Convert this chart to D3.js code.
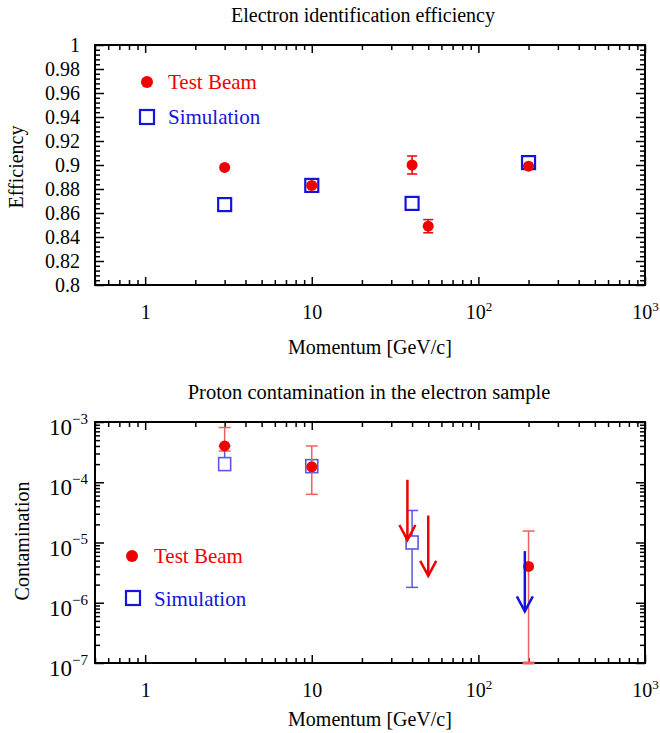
<!DOCTYPE html>
<html>
<head>
<meta charset="utf-8">
<script src="https://cdn.jsdelivr.net/npm/d3@7"></script>
<style>
body { margin: 0; background: #fff; }
svg { font-family: "Liberation Serif", "Times New Roman", serif; }
</style>
</head>
<body>
<div id="chart"></div>
<script>
// ---- efficiency panel data ----
var effTbP = [3, 10, 40, 50, 200];
var effTb = [0.898, 0.883, 0.900, 0.849, 0.899];
var effTbErr = [0, 0, 0.0075, 0.0055, 0];
var effSimP = [3, 10, 40, 200];
var effSim = [0.867, 0.883, 0.868, 0.902];
var effTicks = [0.8, 0.82, 0.84, 0.86, 0.88, 0.9, 0.92, 0.94, 0.96, 0.98, 1];
var effTickLabels = ['0.8', '0.82', '0.84', '0.86', '0.88', '0.9', '0.92', '0.94', '0.96', '0.98', '1'];

// ---- contamination panel data ----
var conTbP = [3, 10, 200];
var conTb = [4.0e-4, 1.8e-4, 4.0e-6];
var conTbLo = [3.3e-4, 6.3e-5, 1e-7];
var conTbHi = [8.1e-4, 4.0e-4, 1.55e-5];
var conTbLimP = [37.5, 50];
var conTbLim = [1.1e-4, 2.8e-5];
var conSimP = [3, 10, 40];
var conSim = [2.0e-4, 1.85e-4, 1.0e-5];
var conSimLo = [2.0e-4, 1.85e-4, 1.8e-6];
var conSimHi = [4.0e-4, 1.85e-4, 3.4e-5];
var conSimLimP = [190];
var conSimLim = [7.2e-6];
var conTicks = [1e-7, 1e-6, 1e-5, 1e-4, 1e-3];
var conTickExp = ['\u22127', '\u22126', '\u22125', '\u22124', '\u22123'];

// ---- shared x axis ----
var xTicks = [1, 10, 100, 1000];
var xTickBase = ['1', '10', '10', '10'];
var xTickExp = ['', '', '2', '3'];

var red = '#f00000', blue = '#1414dc';
var redErr = '#ee6060', blueErr = '#5858e4';

var svg = d3.select('#chart').append('svg')
	.attr('width', 660)
	.attr('height', 733);

var left = 95, right = 645;
var xScale = d3.scaleLog().domain([0.5, 1000]).range([left, right]);

var xMinor = [];
[0.1, 1, 10, 100].forEach(function(dec) {
	for (var k = 2; k <= 9; k++) {
		var v = dec * k;
		if (v >= 0.5 && v <= 1000) xMinor.push(v);
	}
});

// draws the ticks of one side, pointing inwards, no labels
function tickSide(axis, tr, values, size) {
	var g = svg.append('g').attr('transform', tr)
		.call(axis.tickValues(values).tickSize(-size).tickFormat(''));
	g.select('.domain').remove();
	g.selectAll('line').attr('stroke-width', 1.5);
	return g;
}

function panel(yScale, top, bottom, yMajor, yMinor, labelY) {
	tickSide(d3.axisBottom(xScale), 'translate(0,' + bottom + ')', xTicks, 8);
	tickSide(d3.axisBottom(xScale), 'translate(0,' + bottom + ')', xMinor, 5);
	tickSide(d3.axisTop(xScale), 'translate(0,' + top + ')', xTicks, 8);
	tickSide(d3.axisTop(xScale), 'translate(0,' + top + ')', xMinor, 5);
	tickSide(d3.axisLeft(yScale), 'translate(' + left + ',0)', yMajor, 9);
	tickSide(d3.axisLeft(yScale), 'translate(' + left + ',0)', yMinor, 5);
	tickSide(d3.axisRight(yScale), 'translate(' + right + ',0)', yMajor, 9);
	tickSide(d3.axisRight(yScale), 'translate(' + right + ',0)', yMinor, 5);

	// x labels
	var xl = svg.append('g').attr('transform', 'translate(0,' + bottom + ')')
		.call(d3.axisBottom(xScale).tickValues(xTicks).tickSize(0).tickPadding(20)
			.tickFormat(function(d, i) { return xTickBase[i]; }));
	xl.select('.domain').remove();
	xl.attr('font-size', 20).attr('font-family', null);
	xl.selectAll('.tick text').each(function(d, i) {
		if (xTickExp[i]) {
			d3.select(this).append('tspan').attr('dy', '-0.6em')
				.attr('font-size', 13).text(xTickExp[i]);
		}
	});

	svg.append('rect')
		.attr('x', left).attr('y', top)
		.attr('width', right - left).attr('height', bottom - top)
		.attr('fill', 'none').attr('stroke', '#000').attr('stroke-width', 2);

	svg.append('text')
		.attr('x', 370).attr('y', labelY)
		.attr('text-anchor', 'middle').attr('font-size', 20)
		.text('Momentum [GeV/c]');
}

// ================= panel 1 =================
var t1 = 45, b1 = 285;
var yEff = d3.scaleLinear().domain([0.8, 1]).range([b1, t1]);
var effMinor = [];
for (var i = 0; i <= 50; i++) {
	if (i % 5 !== 0) effMinor.push(0.8 + i * 0.004);
}
panel(yEff, t1, b1, effTicks, effMinor, 354);

var yl1 = svg.append('g').attr('transform', 'translate(' + left + ',0)')
	.call(d3.axisLeft(yEff).tickValues(effTicks).tickSize(0).tickPadding(15)
		.tickFormat(function(d, i) { return effTickLabels[i]; }));
yl1.select('.domain').remove();
yl1.attr('font-size', 20).attr('font-family', null);

svg.append('text').attr('x', 363).attr('y', 22)
	.attr('text-anchor', 'middle').attr('font-size', 20)
	.text('Electron identification efficiency');
svg.append('text')
	.attr('transform', 'translate(23,167) rotate(-90)')
	.attr('text-anchor', 'middle').attr('font-size', 20)
	.text('Efficiency');

// error bars
effTbP.forEach(function(p, i) {
	if (!effTbErr[i]) return;
	var x = xScale(p), y0 = yEff(effTb[i] - effTbErr[i]), y1 = yEff(effTb[i] + effTbErr[i]);
	var g = svg.append('g').attr('stroke', red).attr('stroke-width', 1.5);
	g.append('line').attr('x1', x).attr('x2', x).attr('y1', y0).attr('y2', y1);
	g.append('line').attr('x1', x - 5).attr('x2', x + 5).attr('y1', y0).attr('y2', y0);
	g.append('line').attr('x1', x - 5).attr('x2', x + 5).attr('y1', y1).attr('y2', y1);
});

svg.append('g').selectAll('rect')
	.data(effSimP)
	.enter()
	.append('rect')
	.attr('x', function(d) { return xScale(d) - 6.5; })
	.attr('y', function(d, i) { return yEff(effSim[i]) - 6.5; })
	.attr('width', 13).attr('height', 13)
	.attr('fill', 'none').attr('stroke', blue).attr('stroke-width', 2.2);

svg.append('g').selectAll('circle')
	.data(effTbP)
	.enter()
	.append('circle')
	.attr('cx', function(d) { return xScale(d); })
	.attr('cy', function(d, i) { return yEff(effTb[i]); })
	.attr('r', 5.5)
	.attr('fill', red);

// legend 1
svg.append('circle').attr('cx', 147).attr('cy', 82).attr('r', 6).attr('fill', red);
svg.append('text').attr('x', 168).attr('y', 89).attr('font-size', 21).attr('fill', red).text('Test Beam');
svg.append('rect').attr('x', 140).attr('y', 110).attr('width', 14).attr('height', 14)
	.attr('fill', 'none').attr('stroke', blue).attr('stroke-width', 2.2);
svg.append('text').attr('x', 168).attr('y', 124).attr('font-size', 21).attr('fill', blue).text('Simulation');

// ================= panel 2 =================
var t2 = 422, b2 = 663;
var yCon = d3.scaleLog().domain([1e-7, 1e-3]).range([b2, t2]);
var conMinor = [];
[1e-7, 1e-6, 1e-5, 1e-4].forEach(function(dec) {
	for (var k = 2; k <= 9; k++) conMinor.push(dec * k);
});
panel(yCon, t2, b2, conTicks, conMinor, 726);

var yl2 = svg.append('g').attr('transform', 'translate(' + left + ',0)')
	.call(d3.axisLeft(yCon).tickValues(conTicks).tickSize(0).tickPadding(7)
		.tickFormat(function() { return '10'; }));
yl2.select('.domain').remove();
yl2.attr('font-size', 23).attr('font-family', null);
yl2.selectAll('.tick text').attr('dy', '0.55em').each(function(d, i) {
	d3.select(this).append('tspan').attr('dy', '-0.75em')
		.attr('font-size', 15).text(conTickExp[i]);
});

svg.append('text').attr('x', 369).attr('y', 399)
	.attr('text-anchor', 'middle').attr('font-size', 20.5)
	.text('Proton contamination in the electron sample');
svg.append('text')
	.attr('transform', 'translate(29,541) rotate(-90)')
	.attr('text-anchor', 'middle').attr('font-size', 20)
	.text('Contamination');

function errBar(color, x, lo, hi, w) {
	var g = svg.append('g').attr('stroke', color).attr('stroke-width', 1.5);
	g.append('line').attr('x1', x).attr('x2', x).attr('y1', yCon(lo)).attr('y2', yCon(hi));
	g.append('line').attr('x1', x - 6).attr('x2', x + 6).attr('y1', yCon(hi)).attr('y2', yCon(hi));
	g.append('line').attr('x1', x - 6).attr('x2', x + 6).attr('y1', yCon(lo)).attr('y2', yCon(lo))
		.attr('stroke-width', w || 1.5);
}

function arrow(color, p, lim) {
	var x = xScale(p), y0 = yCon(lim), y1 = yCon(lim / 10);
	var g = svg.append('g').attr('stroke', color).attr('stroke-width', 2.5).attr('fill', 'none');
	g.append('line').attr('x1', x).attr('x2', x).attr('y1', y0).attr('y2', y1);
	g.append('path').attr('d', 'M' + (x - 8) + ',' + (y1 - 15) + 'L' + x + ',' + y1 + 'L' + (x + 8) + ',' + (y1 - 15));
}

conSimP.forEach(function(p, i) {
	errBar(blueErr, xScale(p), conSimLo[i], conSimHi[i]);
});
svg.append('g').selectAll('rect')
	.data(conSimP)
	.enter()
	.append('rect')
	.attr('x', function(d) { return xScale(d) - 6; })
	.attr('y', function(d, i) { return yCon(conSim[i]) - 6.5; })
	.attr('width', 12).attr('height', 13)
	.attr('fill', '#fff').attr('stroke', blueErr).attr('stroke-width', 1.6);

conTbP.forEach(function(p, i) {
	errBar(redErr, xScale(p), conTbLo[i], conTbHi[i], i === 2 ? 3 : 1.5);
});
svg.append('g').selectAll('circle')
	.data(conTbP)
	.enter()
	.append('circle')
	.attr('cx', function(d) { return xScale(d); })
	.attr('cy', function(d, i) { return yCon(conTb[i]); })
	.attr('r', 5.5)
	.attr('fill', red);

conTbLimP.forEach(function(p, i) { arrow(red, p, conTbLim[i]); });
conSimLimP.forEach(function(p, i) { arrow(blue, p, conSimLim[i]); });

// legend 2
svg.append('circle').attr('cx', 132).attr('cy', 556).attr('r', 6).attr('fill', red);
svg.append('text').attr('x', 154).attr('y', 563).attr('font-size', 21).attr('fill', red).text('Test Beam');
svg.append('rect').attr('x', 126).attr('y', 591).attr('width', 14).attr('height', 14)
	.attr('fill', 'none').attr('stroke', blue).attr('stroke-width', 2.2);
svg.append('text').attr('x', 154).attr('y', 606).attr('font-size', 21).attr('fill', blue).text('Simulation');
</script>
</body>
</html>
